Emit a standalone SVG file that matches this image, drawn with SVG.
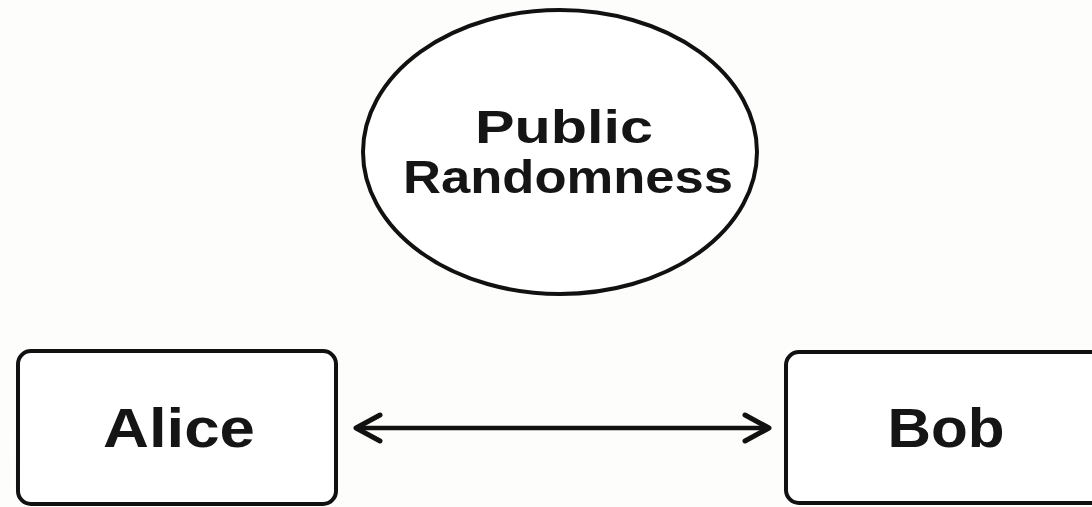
<svg xmlns="http://www.w3.org/2000/svg" width="1092" height="507" viewBox="0 0 1092 507">
  <style>
    .shape { fill: #ffffff; stroke: #111111; stroke-width: 4; }
    .label { font-family: "Liberation Sans", Arial, sans-serif; font-weight: bold; fill: #151515; text-anchor: middle; }
    .link { stroke: #111111; stroke-width: 4.5; fill: none; stroke-linecap: round; }
    .head { stroke: #111111; stroke-width: 5; fill: none; stroke-linecap: round; stroke-linejoin: round; }
  </style>
  <rect width="1092" height="507" fill="#fdfdfb"/>

  <g id="public-randomness">
    <ellipse class="shape" cx="560" cy="152" rx="197" ry="142"/>
    <text class="label" x="564" y="143" font-size="47" textLength="178" lengthAdjust="spacingAndGlyphs">Public</text>
    <text class="label" x="568" y="193" font-size="47" textLength="330" lengthAdjust="spacingAndGlyphs">Randomness</text>
  </g>

  <g id="alice">
    <rect class="shape" x="18" y="351" width="318" height="153" rx="13"/>
    <text class="label" x="179" y="447" font-size="55" textLength="152" lengthAdjust="spacingAndGlyphs">Alice</text>
  </g>

  <g id="bob">
    <rect class="shape" x="786" y="352" width="320" height="151" rx="13"/>
    <text class="label" x="946" y="447" font-size="55" textLength="117" lengthAdjust="spacingAndGlyphs">Bob</text>
  </g>

  <g id="connectors">
    <line class="link" x1="357" y1="428" x2="768" y2="428"/>
    <polyline class="head" points="380,415 356,428 380,441"/>
    <polyline class="head" points="745,415 769,428 745,441"/>
  </g>
</svg>
